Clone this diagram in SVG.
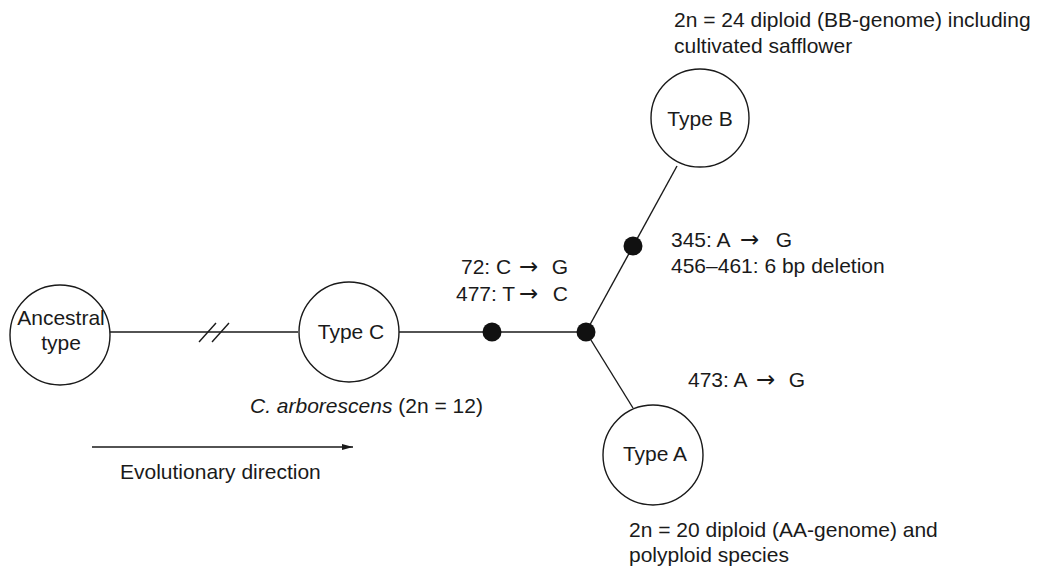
<svg xmlns="http://www.w3.org/2000/svg" width="1041" height="570" viewBox="0 0 1041 570">
<style>
text{font-family:"Liberation Sans",Arial,sans-serif;font-size:21px;fill:#1a1a1a}
.arr{font-family:"DejaVu Sans",sans-serif;font-size:23px}
.node circle{fill:#fff;stroke:#1a1a1a;stroke-width:1.4}
.edge{stroke:#1a1a1a;stroke-width:1.4;fill:none}
.dot{fill:#111}
</style>
<defs>
<marker id="ah" markerWidth="12" markerHeight="8" refX="11" refY="4" orient="auto" markerUnits="userSpaceOnUse">
<path d="M0,1 L11,4 L0,7 Z" fill="#1a1a1a"/>
</marker>
</defs>
<g id="connectors">
<line class="edge" x1="110" y1="332" x2="298" y2="332"/>
<line class="edge" x1="199" y1="342" x2="216" y2="323"/>
<line class="edge" x1="212" y1="342" x2="229" y2="323"/>
<line class="edge" x1="398" y1="332" x2="586" y2="332"/>
<line class="edge" x1="586" y1="332" x2="677" y2="166"/>
<line class="edge" x1="586" y1="332" x2="633" y2="408"/>
<line class="edge" x1="92" y1="447" x2="353" y2="447" marker-end="url(#ah)"/>
</g>
<g id="dots">
<circle class="dot" cx="492" cy="332" r="9.5"/>
<circle class="dot" cx="586" cy="332" r="9.5"/>
<circle class="dot" cx="633" cy="246" r="9.5"/>
</g>
<g id="node-ancestral" class="node">
<circle cx="60" cy="335" r="50"/>
<text x="61" y="325" text-anchor="middle">Ancestral</text>
<text x="61" y="350" text-anchor="middle">type</text>
</g>
<g id="node-typeC" class="node">
<circle cx="349" cy="332" r="50"/>
<text x="351" y="339" text-anchor="middle">Type C</text>
</g>
<g id="node-typeB" class="node">
<circle cx="700" cy="118" r="49"/>
<text x="700" y="126" text-anchor="middle">Type B</text>
</g>
<g id="node-typeA" class="node">
<circle cx="653" cy="455" r="50"/>
<text x="655" y="461" text-anchor="middle">Type A</text>
</g>
<g id="labels">
<text x="674" y="27">2n = 24 diploid (BB-genome) including</text>
<text x="674" y="53">cultivated safflower</text>
<text x="671" y="247">345: A <tspan class="arr" x="740">→</tspan><tspan x="770"> G</tspan></text>
<text x="671" y="273">456–461: 6 bp deletion</text>
<text x="461" y="274">72: C <tspan class="arr" x="519">→</tspan><tspan x="546"> G</tspan></text>
<text x="456" y="301">477: T<tspan class="arr" x="519">→</tspan><tspan x="547"> C</tspan></text>
<text x="688" y="387">473: A <tspan class="arr" x="756">→</tspan><tspan x="783"> G</tspan></text>
<text x="250" y="413"><tspan font-style="italic">C. arborescens</tspan> (2n = 12)</text>
<text x="120" y="479">Evolutionary direction</text>
<text x="629" y="537">2n = 20 diploid (AA-genome) and</text>
<text x="629" y="562">polyploid species</text>
</g>
</svg>
